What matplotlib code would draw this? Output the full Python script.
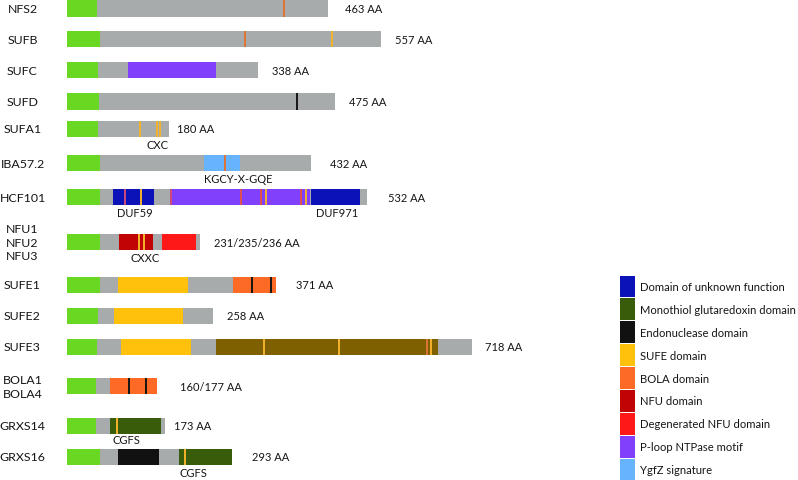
import matplotlib
matplotlib.use("Agg")
import matplotlib.pyplot as plt
from matplotlib.patches import Rectangle

plt.rcParams['font.family'] = ['Lato', 'DejaVu Sans']

# ---------------- data ----------------
proteins = ['NFS2', 'SUFB', 'SUFC', 'SUFD', 'SUFA1', 'IBA57.2', 'HCF101',
            'NFU1\nNFU2\nNFU3', 'SUFE1', 'SUFE2', 'SUFE3', 'BOLA1\nBOLA4',
            'GRXS14', 'GRXS16']
lengths = [463, 557, 338, 475, 180, 432, 532, 236, 371, 258, 718, 160, 173, 293]
length_labels = ['463 AA', '557 AA', '338 AA', '475 AA', '180 AA', '432 AA',
                 '532 AA', '231/235/236 AA', '371 AA', '258 AA', '718 AA',
                 '160/177 AA', '173 AA', '293 AA']
transit_end = [53, 58, 55, 57, 55, 58, 58, 58, 58, 55, 54, 52, 52, 58]

# domains: row index, start, end, kind
domain_row = [2, 5, 6, 6, 6, 7, 7, 8, 8, 9, 10, 10, 11, 12, 13, 13]
domain_start = [109, 243, 82, 183, 432, 93, 169, 91, 294, 83, 95, 265, 77, 77, 90, 199]
domain_end = [264, 307, 155, 431, 519, 153, 229, 215, 371, 205, 219, 658, 160, 167, 164, 293]
domain_kind = ['ploop', 'ygfz', 'duf', 'ploop', 'duf', 'nfu', 'dnfu', 'sufe', 'bola',
               'sufe', 'sufe', 'other', 'bola', 'grx', 'endo', 'grx']

# residue markers: row index, position, kind
marker_row = [0, 1, 1, 3, 4, 4, 4, 5, 6, 6, 6, 6, 6, 6, 6, 6, 7, 7, 8, 8,
              10, 10, 10, 10, 11, 11, 12, 13]
marker_pos = [385, 316, 469, 407, 129, 160, 165, 281, 102, 132, 184, 308, 344,
              352, 415, 424, 128, 136, 328, 362, 349, 483, 639, 645, 110, 140, 89, 209]
marker_kind = ['o', 'o', 'y', 'k', 'y', 'y', 'y', 'o', 'p', 'y', 'p', 'r', 'r',
               'y', 'r', 'y', 'y', 'y', 'k', 'k', 'y', 'y', 'o', 'y', 'k', 'k', 'y', 'y']

# motif / domain annotations: row index, position, text
motif_row = [4, 5, 6, 6, 7, 12, 13]
motif_pos = [161, 303, 120, 479, 138, 105, 225]
motif_text = ['CXC', 'KGCY-X-GQE', 'DUF59', 'DUF971', 'CXXC', 'CGFS', 'CGFS']

legend_kinds = ['duf', 'grx', 'endo', 'sufe', 'bola', 'nfu', 'dnfu', 'ploop', 'ygfz']
legend_labels = ['Domain of unknown function', 'Monothiol glutaredoxin domain',
                 'Endonuclease domain', 'SUFE domain', 'BOLA domain', 'NFU domain',
                 'Degenerated NFU domain', 'P-loop NTPase motif', 'YgfZ signature']

# ---------------- styles / layout ----------------
colors = {
    'duf': '#0b12b8', 'grx': '#385c0a', 'endo': '#111111', 'sufe': '#ffc10c',
    'bola': '#fd6a25', 'nfu': '#c00404', 'dnfu': '#ff1818', 'ploop': '#8040fc',
    'ygfz': '#68b4fc', 'other': '#7f6000',
}
marker_colors = {'o': '#e07434', 'y': '#f4b42a', 'k': '#151515',
                 'p': '#d04a78', 'r': '#e0504c'}
transit_color = '#68d822'
body_color = '#a8abab'
text_color = '#151515'

row_y = [9.5, 40.3, 71.3, 102.5, 130, 164.3, 198.3, 243.3, 285.7, 316.7, 348,
         387.2, 426.7, 457.8]
label_gap_px = [17, 14, 14, 14, 8, 19, 21, 14, 20, 14, 13, 23, 9, 20]
motif_y = [145.7, 179.3, 214, 213.3, 259, 441, 473.7]

W, H = 798, 481
x0_px = 67.0
px_per_aa = 0.564
bar_h = 16.3

fig = plt.figure(figsize=(W / 100, H / 100), dpi=100)
ax = fig.add_axes([0, 0, 1, 1])
ax.set_xlim(-x0_px / px_per_aa, (W - x0_px) / px_per_aa)
ax.set_ylim(H, 0)
ax.axis('off')


def px2aa(px):
    return (px - x0_px) / px_per_aa


for i, name in enumerate(proteins):
    y = row_y[i]
    ax.add_patch(Rectangle((0, y - bar_h / 2), lengths[i], bar_h,
                           facecolor=body_color, edgecolor='none', zorder=1))
    ax.add_patch(Rectangle((0, y - bar_h / 2), transit_end[i], bar_h,
                           facecolor=transit_color, edgecolor='none', zorder=2))
    ax.text(px2aa(22.5), y, name, ha='center', va='center', fontsize=8.9,
            color=text_color, linespacing=1.3)
    ax.text(lengths[i] + label_gap_px[i] / px_per_aa, y, length_labels[i],
            ha='left', va='center', fontsize=8, color=text_color)

for r, s, e, k in zip(domain_row, domain_start, domain_end, domain_kind):
    y = row_y[r]
    ax.add_patch(Rectangle((s, y - bar_h / 2), e - s, bar_h,
                           facecolor=colors[k], edgecolor='none', zorder=3))

for r, p, k in zip(marker_row, marker_pos, marker_kind):
    y = row_y[r]
    ax.vlines(p, y - bar_h / 2, y + bar_h / 2, colors=marker_colors[k],
              linewidth=1.4, zorder=4)

for r, p, t, my in zip(motif_row, motif_pos, motif_text, motif_y):
    ax.text(p, my, t, ha='center', va='center', fontsize=8, color=text_color)

# legend
leg_x = px2aa(619.5)
sw_w = 15 / px_per_aa
leg_top = 276.5
step = 22.9
for j, (k, lab) in enumerate(zip(legend_kinds, legend_labels)):
    top = leg_top + j * step
    ax.add_patch(Rectangle((leg_x, top), sw_w, step - 1,
                           facecolor=colors[k], edgecolor='none'))
    ax.text(px2aa(640), top + step / 2 - 0.5, lab, ha='left', va='center',
            fontsize=8.15, color=text_color)

fig.savefig('out.png', dpi=100)
